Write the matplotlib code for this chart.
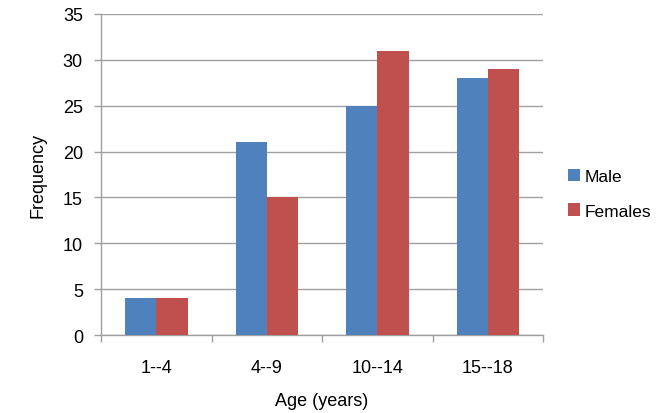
import numpy as np
from matplotlib import pyplot as plt

plt.rcParams['font.family'] = ['Liberation Sans', 'DejaVu Sans']

categories = ['1--4', '4--9', '10--14', '15--18']
male = [4, 21, 25, 28]
females = [4, 15, 31, 29]
y_ticks = [0, 5, 10, 15, 20, 25, 30, 35]

grid_color = '#a0a0a0'

fig = plt.figure(figsize=(6.69, 4.14), dpi=100)
ax = fig.add_axes([0.151, 0.188, 0.661, 0.776])

x = np.arange(len(categories))
w = 0.283
ax.bar(x - w / 2, male, w, color='#4f81bd', label='Male', zorder=3)
ax.bar(x + w / 2, females, w, color='#c0504d', label='Females', zorder=3)

ax.set_xlim(-0.5, len(categories) - 0.5)
ax.set_ylim(0, 35)
ax.set_yticks(y_ticks)
ax.yaxis.grid(True, color=grid_color, linewidth=1, zorder=0)

# category labels centered, tick marks between groups
ax.set_xticks(x)
ax.set_xticklabels(categories)
ax.tick_params(axis='x', length=0, pad=17, labelsize=13)
ax.set_xticks(np.arange(len(categories) + 1) - 0.5, minor=True)
ax.tick_params(axis='x', which='minor', length=5, color=grid_color, width=1)
ax.tick_params(axis='y', length=5, color=grid_color, width=1, labelsize=13, pad=8)

for s in ['top', 'right']:
    ax.spines[s].set_visible(False)
for s in ['left', 'bottom']:
    ax.spines[s].set_color(grid_color)
    ax.spines[s].set_linewidth(1)

ax.set_xlabel('Age (years)', fontsize=13, labelpad=12)
ax.set_ylabel('Frequency', fontsize=13, labelpad=12)

ax.legend(loc='center left', bbox_to_anchor=(1.02, 0.44), frameon=False,
          fontsize=12.5, handlelength=0.7, handleheight=0.7, handletextpad=0.3,
          labelspacing=1.1)

fig.savefig('out.png', dpi=100)
